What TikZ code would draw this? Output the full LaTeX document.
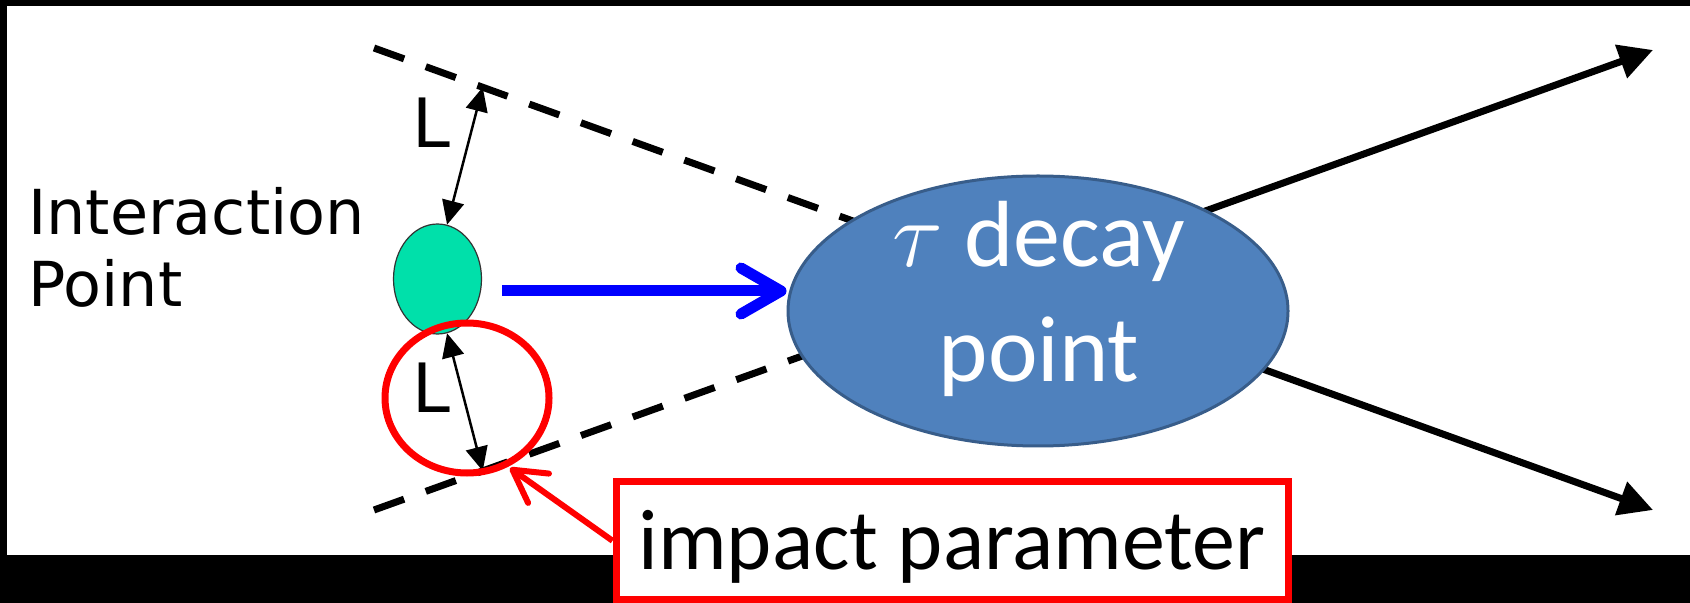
\documentclass[tikz,border=0pt]{standalone}
\usepackage{fix-cm}
\usepackage{fontspec}
\newfontfamily\ipfont{DejaVu Sans}
\newfontfamily\calfont{Carlito}
\usetikzlibrary{arrows.meta, shapes.geometric, calc}

\definecolor{ipgreen}{RGB}{0,224,170}
\definecolor{taublue}{RGB}{79,129,189}
\definecolor{tauedge}{RGB}{56,93,138}

\begin{document}
\begin{tikzpicture}[x=0.5pt, y=-0.5pt,
  track/.style={line width=3.5pt},
  Lline/.style={line width=1.25pt, {Triangle[length=12pt,width=11pt]}-{Triangle[length=12pt,width=11pt]}},
  Llabel/.style={font=\ipfont\fontsize{34}{40}\selectfont, inner sep=0pt, anchor=base west}
]

% frame
\fill[black] (0,0) rectangle (1690,603);
\fill[white] (7,6) rectangle (1690,555);
\useasboundingbox (0,0) rectangle (1690,603);

% cone of tracks
\coordinate (a1) at (374,48);
\coordinate (a2) at (1653,510);
\coordinate (b1) at (374,510);
\coordinate (b2) at (1653,50);
\coordinate (ax) at ($(a1)!0.5!(a2)$);
\coordinate (bx) at ($(b1)!0.5!(b2)$);
\draw[track, dash pattern=on 16pt off 11.5pt] (a1) -- (ax);
\draw[track, dash pattern=on 16pt off 11.5pt] (b1) -- (bx);
\draw[track, -{Triangle[length=17pt,width=17pt]}] (ax) -- (a2);
\draw[track, -{Triangle[length=17pt,width=17pt]}] (bx) -- (b2);

\node[font=\ipfont\fontsize{31}{36}\selectfont, align=left, anchor=base west, inner sep=0pt] (iplabel) at (28,307) {Interaction\\Point};

% interaction point
\node[ellipse, draw=black!80, line width=0.6pt, fill=ipgreen, minimum width=44pt, minimum height=55pt, inner sep=0pt] (ip) at (437.5,279) {};

% distance L
\coordinate (Ltop) at ($(a1)!0.085!(a2)$);
\coordinate (Lbot) at ($(b1)!0.085!(b2)$);
\draw[Lline] (ip.80) -- (Ltop);
\draw[Lline] (ip.-80) -- (Lbot);
\node[Llabel] (L1) at (412,148) {L};
\node[Llabel] (L2) at (412,413) {L};

% decay point
\node[ellipse, draw=tauedge, line width=1.5pt, fill=taublue, minimum width=250pt, minimum height=135pt] (tau) at (1038,311) {};
\node[text=white, font=\calfont\fontsize{47}{57.5}\selectfont, align=center, anchor=base, inner sep=0pt] (taulbl) at (1039,382) {$\tau$ decay\\point};

% flight
\coordinate (bm) at ([shift={(20,12)}]ip.east);
\draw[blue, line width=5.5pt, -{Straight Barb[length=20pt,width=23pt,round]}] (bm) -- (bm -| tau.west);

% impact parameter
\draw[red, line width=3.5pt] (467,398) ellipse [x radius=41pt, y radius=37.5pt];
\node[draw=red, line width=3.5pt, fill=white, minimum width=336pt, minimum height=59pt, inner sep=0pt, text height=40pt, text depth=10.8pt, font=\calfont\fontsize{43}{50}\selectfont] (ipbox) at (952,540.75) {impact parameter};
\coordinate (ipt) at (510,468);
\draw[red, line width=3pt, -{Straight Barb[length=16pt,width=18pt,round]}] (ipbox.west) -- (ipt);

\end{tikzpicture}
\end{document}
